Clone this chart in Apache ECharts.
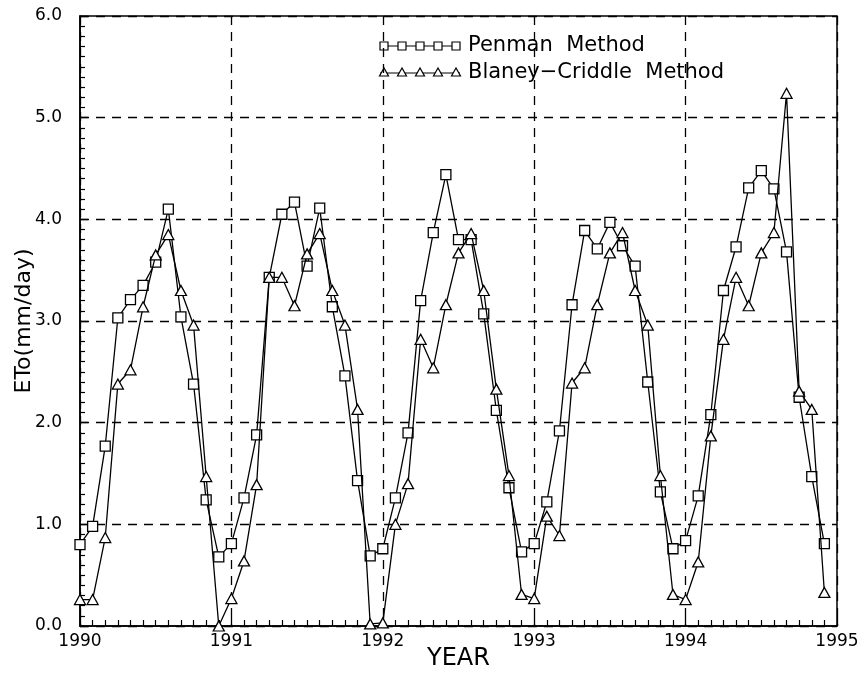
<!DOCTYPE html>
<html>
<head>
<meta charset="utf-8">
<script src="https://cdn.jsdelivr.net/npm/echarts@6/dist/echarts.min.js"></script>
<style>
  html, body { margin: 0; padding: 0; background: #fff; }
  #chart { width: 863px; height: 680px; }
</style>
</head>
<body>
<div id="chart"></div>
<script>
// monthly ETo values, Jan 1990 .. Dec 1994
const startYear = 1990
const yearTicks = [1990, 1991, 1992, 1993, 1994, 1995]
const penman = [
  0.80, 0.98, 1.77, 3.03, 3.21, 3.35, 3.58, 4.10, 3.04, 2.38, 1.24, 0.68,
  0.81, 1.26, 1.88, 3.43, 4.05, 4.17, 3.54, 4.11, 3.14, 2.46, 1.43, 0.69,
  0.76, 1.26, 1.90, 3.20, 3.87, 4.44, 3.80, 3.80, 3.07, 2.12, 1.36, 0.73,
  0.81, 1.22, 1.92, 3.16, 3.89, 3.71, 3.97, 3.74, 3.54, 2.40, 1.32, 0.76,
  0.84, 1.28, 2.08, 3.30, 3.73, 4.31, 4.48, 4.30, 3.68, 2.25, 1.47, 0.81
]
const blaneyCriddle = [
  0.26, 0.26, 0.87, 2.38, 2.52, 3.14, 3.65, 3.85, 3.30, 2.96, 1.47, 0.00,
  0.27, 0.64, 1.39, 3.43, 3.43, 3.15, 3.66, 3.86, 3.30, 2.96, 2.13, 0.02,
  0.03, 1.00, 1.40, 2.82, 2.54, 3.16, 3.67, 3.86, 3.30, 2.33, 1.48, 0.31,
  0.27, 1.08, 0.89, 2.39, 2.54, 3.16, 3.67, 3.87, 3.30, 2.96, 1.48, 0.31,
  0.26, 0.63, 1.87, 2.82, 3.43, 3.15, 3.67, 3.87, 5.24, 2.31, 2.13, 0.33
]
const seriesNames = ['Penman  Method', 'Blaney\u2212Criddle  Method']

const toPoints = arr => arr.map((v, i) => [startYear + i / 12, v])

const font = '"DejaVu Sans", sans-serif'
const chart = echarts.init(document.getElementById('chart'))

// legend drawn by hand to mimic the plotter style (line through 5 markers)
const legendItems = []
const legendX = [384, 402, 420, 438, 456]
;[46, 73].forEach((y, row) => {
  legendItems.push({
    type: 'line',
    shape: { x1: 380, y1: y, x2: 460, y2: y },
    style: { stroke: '#000', lineWidth: 1.2 }
  })
  legendX.forEach(x => {
    if (row === 0) {
      legendItems.push({
        type: 'rect',
        shape: { x: x - 4, y: y - 4, width: 8, height: 8 },
        style: { fill: '#fff', stroke: '#000', lineWidth: 1.2 }
      })
    } else {
      legendItems.push({
        type: 'polygon',
        shape: { points: [[x, y - 5], [x - 4.5, y + 3], [x + 4.5, y + 3]] },
        style: { fill: '#fff', stroke: '#000', lineWidth: 1.2 }
      })
    }
  })
  legendItems.push({
    type: 'text',
    x: 468,
    y: y,
    style: {
      text: seriesNames[row],
      font: '21px ' + font,
      fill: '#000',
      textVerticalAlign: 'middle'
    }
  })
})

const option = {
  animation: false,
  backgroundColor: '#fff',
  grid: {
    left: 80,
    right: 26,
    top: 16,
    bottom: 54,
    containLabel: false,
    outerBoundsMode: 'none',
    show: true,
    borderColor: '#000',
    borderWidth: 1.5
  },
  xAxis: {
    type: 'value',
    min: yearTicks[0],
    max: yearTicks[yearTicks.length - 1],
    interval: 1,
    name: 'YEAR',
    nameLocation: 'middle',
    nameGap: 21,
    nameMoveOverlap: false,
    nameTextStyle: { fontFamily: font, fontSize: 24, color: '#000' },
    axisLine: { lineStyle: { color: '#000', width: 1.5 } },
    axisTick: { inside: true, length: 9, lineStyle: { color: '#000', width: 1.3 } },
    minorTick: { show: true, splitNumber: 12, length: 6, lineStyle: { color: '#000', width: 1.2 } },
    axisLabel: {
      fontFamily: font, fontSize: 17, color: '#000', margin: 7,
      formatter: v => String(Math.round(v))
    },
    splitLine: { show: true, lineStyle: { color: '#000', width: 1.3, type: [9, 7] } }
  },
  yAxis: {
    type: 'value',
    min: 0,
    max: 6,
    interval: 1,
    name: 'ETo(mm/day)',
    nameLocation: 'middle',
    nameGap: 45,
    nameMoveOverlap: false,
    nameTextStyle: { fontFamily: font, fontSize: 22, color: '#000' },
    axisLine: { show: true, lineStyle: { color: '#000', width: 1.5 } },
    axisTick: { show: true, inside: true, length: 8, lineStyle: { color: '#000', width: 1.3 } },
    minorTick: { show: true, splitNumber: 10, length: 5, lineStyle: { color: '#000', width: 1.2 } },
    axisLabel: {
      fontFamily: font, fontSize: 17, color: '#000', margin: 18,
      formatter: v => v.toFixed(1)
    },
    splitLine: { show: true, lineStyle: { color: '#000', width: 1.3, type: [9, 7] } }
  },
  graphic: legendItems,
  series: [
    {
      name: seriesNames[0],
      type: 'line',
      data: toPoints(penman),
      symbol: 'rect',
      symbolSize: 10,
      showAllSymbol: true,
      lineStyle: { color: '#000', width: 1.3 },
      itemStyle: { color: '#fff', borderColor: '#000', borderWidth: 1.3 },
      z: 3
    },
    {
      name: seriesNames[1],
      type: 'line',
      data: toPoints(blaneyCriddle),
      symbol: 'triangle',
      symbolSize: [11, 10],
      showAllSymbol: true,
      lineStyle: { color: '#000', width: 1.3 },
      itemStyle: { color: '#fff', borderColor: '#000', borderWidth: 1.3 },
      z: 4
    }
  ]
}

chart.setOption(option)
</script>
</body>
</html>
